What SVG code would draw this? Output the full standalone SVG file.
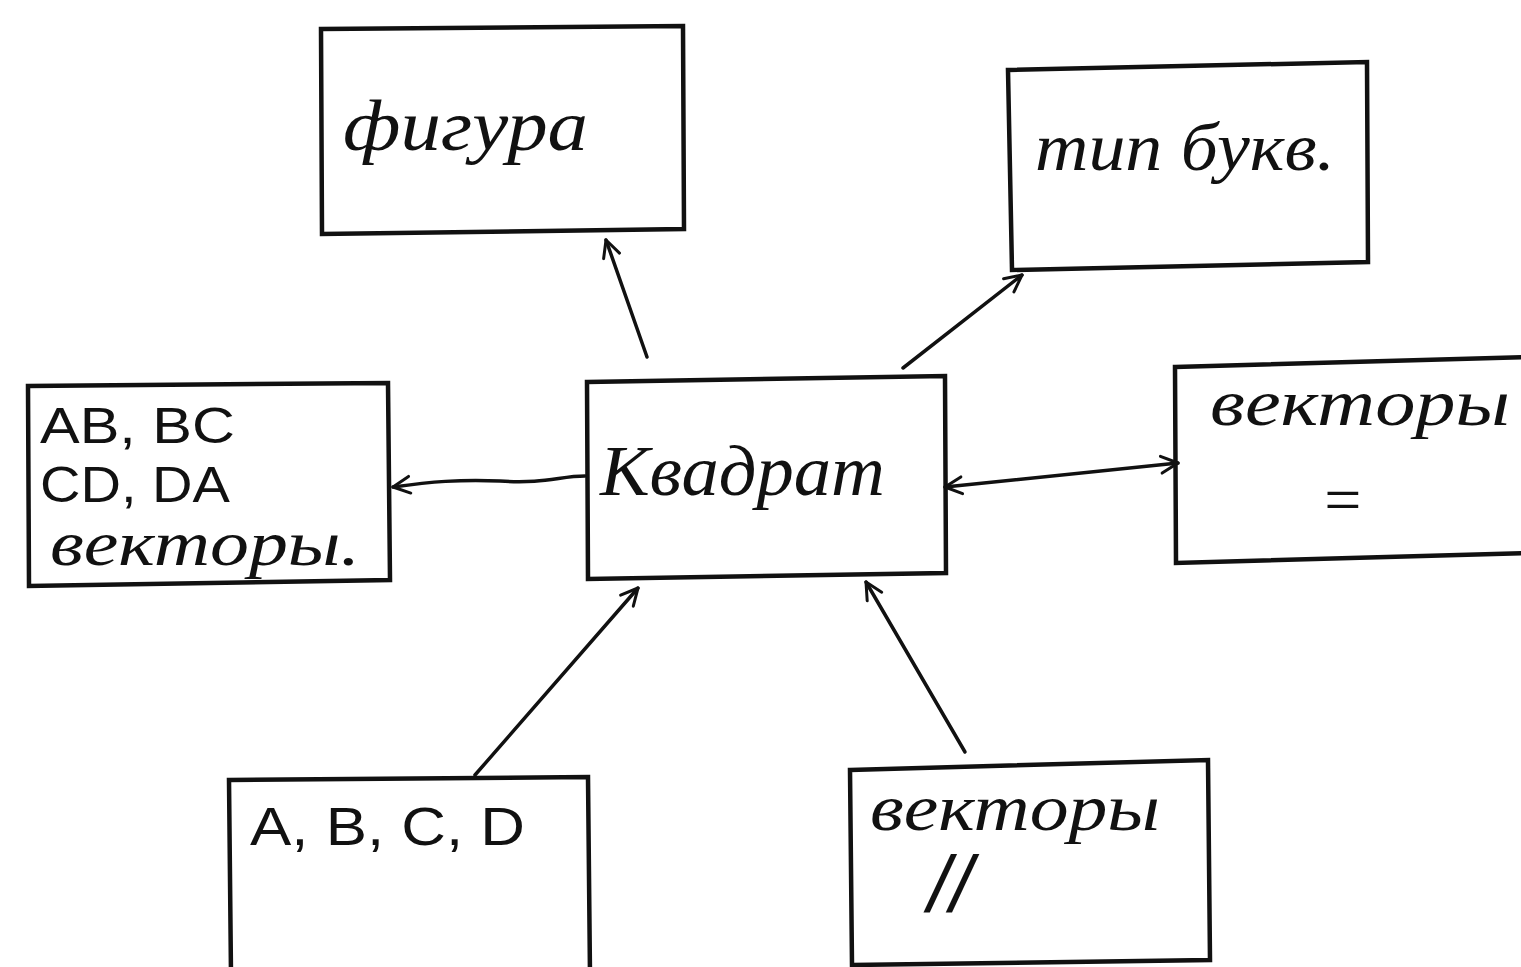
<svg xmlns="http://www.w3.org/2000/svg" width="1521" height="967" viewBox="0 0 1521 967">
<style>
.box{fill:none;stroke:#111;stroke-width:4.5}
.c{fill:none;stroke:#111;stroke-width:3.5;stroke-linecap:round}
.t{font-family:"Liberation Serif","DejaVu Serif",serif;font-style:italic;fill:#111}
.p{font-family:"Liberation Sans","DejaVu Sans",sans-serif;fill:#111}
</style>
<defs>
<marker id="ah" viewBox="0 0 20 20" refX="18" refY="10" markerWidth="24" markerHeight="24" orient="auto-start-reverse" markerUnits="userSpaceOnUse">
<path d="M4,3 L18,10 L4,17" fill="none" stroke="#111" stroke-width="2.5" stroke-linejoin="round" stroke-linecap="round"/>
</marker>
</defs>
<rect width="1521" height="967" fill="#fff"/>
<g id="n-figura"><path class="box" d="M321,29 L683,26 L684,229 L322,234 Z"/><text class="t" x="343" y="150" font-size="72" textLength="245" lengthAdjust="spacingAndGlyphs">фигура</text></g>
<g id="n-tip"><path class="box" d="M1008,70 L1367,62 L1368,262 L1012,270 Z"/><text class="t" x="1035" y="170" font-size="68" textLength="300" lengthAdjust="spacingAndGlyphs">тип букв.</text></g>
<g id="n-vectors-left"><path class="box" d="M28,386 L388,383 L390,580 L29,586 Z"/>
<text class="p" x="40" y="443" font-size="50" textLength="195" lengthAdjust="spacingAndGlyphs">AB, BC</text>
<text class="p" x="40" y="502" font-size="50" textLength="190" lengthAdjust="spacingAndGlyphs">CD, DA</text>
<text class="t" x="50" y="565" font-size="64" textLength="310" lengthAdjust="spacingAndGlyphs">векторы.</text></g>
<g id="n-kvadrat"><path class="box" d="M587,382 L945,376 L946,573 L588,579 Z"/><text class="t" x="600" y="495" font-size="72" textLength="285" lengthAdjust="spacingAndGlyphs">Квадрат</text></g>
<g id="n-vectors-eq"><path class="box" d="M1175,367 L1530,357 L1530,553 L1176,563 Z"/><text class="t" x="1210" y="425" font-size="66" textLength="300" lengthAdjust="spacingAndGlyphs">векторы</text><text class="t" x="1320" y="522" font-size="66">=</text></g>
<g id="n-abcd"><path class="box" d="M229,780 L588,777 L590,975 L231,975 Z"/><text class="p" x="250" y="845" font-size="54" textLength="275" lengthAdjust="spacingAndGlyphs">A, B, C, D</text></g>
<g id="n-vectors-par"><path class="box" d="M850,770 L1208,760 L1210,960 L852,965 Z"/><text class="t" x="870" y="830" font-size="66" textLength="290" lengthAdjust="spacingAndGlyphs">векторы</text><text class="p" x="928" y="912" font-size="80" font-style="italic">//</text></g>
<g id="connectors">
<path class="c" d="M647,357 L606,240" marker-end="url(#ah)"/>
<path class="c" d="M903,368 L1022,275" marker-end="url(#ah)"/>
<path class="c" d="M585,476 C560,476 545,484 500,481 C460,479 430,482 393,487" marker-end="url(#ah)"/>
<path class="c" d="M945,487 L1178,463" marker-start="url(#ah)" marker-end="url(#ah)"/>
<path class="c" d="M475,775 L638,588" marker-end="url(#ah)"/>
<path class="c" d="M965,752 L866,582" marker-end="url(#ah)"/>
</g>
</svg>
